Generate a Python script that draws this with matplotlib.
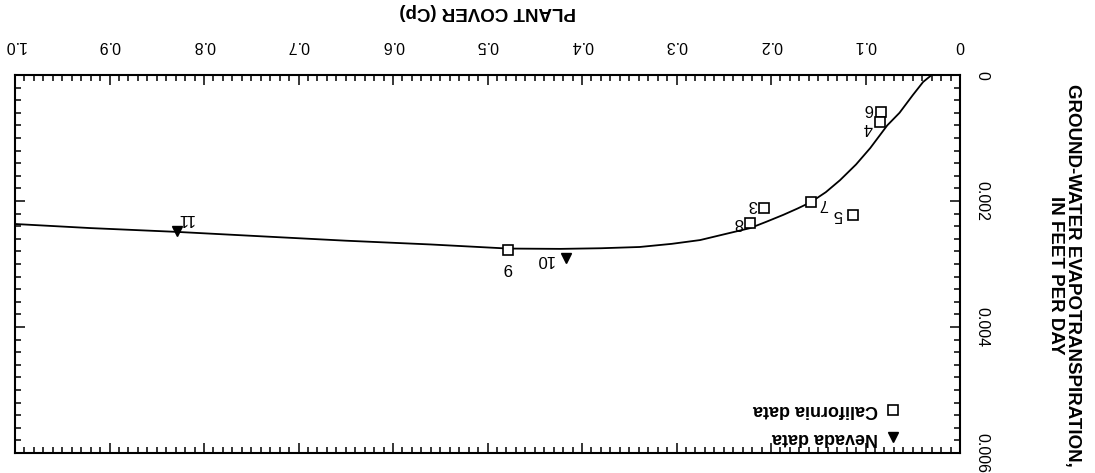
import matplotlib
matplotlib.use("Agg")
import matplotlib.pyplot as plt
from matplotlib.ticker import MultipleLocator

plt.rcParams['font.family'] = ['Liberation Sans', 'DejaVu Sans']

# fitted curve (plant cover, ET in ft/day)
curve_cp = [0.030, 0.039, 0.050, 0.064, 0.077, 0.095, 0.110, 0.127, 0.142, 0.158,
            0.172, 0.187, 0.205, 0.222, 0.250, 0.275, 0.305, 0.339, 0.380, 0.423,
            0.478, 0.560, 0.650, 0.740, 0.829, 0.920, 1.000]
curve_et = [0.00000, 0.00011, 0.00032, 0.00060, 0.00080, 0.00116, 0.00142, 0.00167,
            0.00186, 0.00202, 0.00212, 0.00222, 0.00233, 0.00243, 0.00253, 0.00262,
            0.00268, 0.00273, 0.00275, 0.00276, 0.002755, 0.00269, 0.00263, 0.00256,
            0.00249, 0.00243, 0.002365]

# California sites (open squares)
ca_id = ["6", "4", "7", "5", "3", "8", "9"]
ca_cp = [0.084, 0.085, 0.158, 0.113, 0.207, 0.222, 0.478]
ca_et = [0.00059, 0.00075, 0.00202, 0.00222, 0.00211, 0.00235, 0.00278]

# Nevada sites (filled triangles)
nv_id = ["10", "11"]
nv_cp = [0.417, 0.829]
nv_et = [0.00290, 0.00248]

x_ticks = [0, 0.1, 0.2, 0.3, 0.4, 0.5, 0.6, 0.7, 0.8, 0.9, 1.0]
x_labels = ["0", "0.1", "0.2", "0.3", "0.4", "0.5", "0.6", "0.7", "0.8", "0.9", "1.0"]
y_ticks = [0, 0.002, 0.004, 0.006]
y_labels = ["0", "0.002", "0.004", "0.006"]

# label offsets in pixels (figure is printed upside down)
ca_off = [(-12, 4), (-12, -5), (13, -1), (-15, 0), (-12, 3), (-12, 1), (-1, -17)]
nv_off = [(-21, -2), (9, 13)]

fig = plt.figure(figsize=(10.95, 4.73), dpi=100)
ax = fig.add_axes([15 / 1095, 20 / 473, 945 / 1095, 378 / 473])

ax.plot(curve_cp, curve_et, color="black", lw=1.3)
ax.plot(ca_cp, ca_et, ls="none", marker="s", ms=7.5, mfc="white", mec="black", mew=1.2)
ax.plot(nv_cp, nv_et, ls="none", marker="v", ms=7, color="black")

for lab, x, y, off in zip(ca_id, ca_cp, ca_et, ca_off):
    ax.annotate(lab, (x, y), xytext=off, textcoords="offset pixels",
                ha="center", va="center", rotation=180, fontsize=12)
for lab, x, y, off in zip(nv_id, nv_cp, nv_et, nv_off):
    ax.annotate(lab, (x, y), xytext=off, textcoords="offset pixels",
                ha="center", va="center", rotation=180, fontsize=12)

# whole chart is rotated 180 degrees
ax.set_xlim(1.0, 0)
ax.set_ylim(0.006, 0)

ax.xaxis.tick_top()
ax.xaxis.set_label_position("top")
ax.yaxis.tick_right()
ax.yaxis.set_label_position("right")

ax.set_xticks(x_ticks)
ax.set_xticklabels(x_labels, rotation=180, fontsize=11.5)
ax.set_yticks(y_ticks)
ax.set_yticklabels(y_labels, rotation=270, va="center", fontsize=11.5)
ax.xaxis.set_minor_locator(MultipleLocator(0.01))
ax.yaxis.set_minor_locator(MultipleLocator(0.0002))

ax.tick_params(which="both", direction="in", top=True, bottom=True, left=True, right=True,
               width=1.1, color="black")
ax.tick_params(which="major", length=7)
ax.tick_params(which="minor", length=4.5)
ax.tick_params(axis="x", which="major", pad=16)
ax.tick_params(axis="y", which="major", pad=10)
for s in ax.spines.values():
    s.set_linewidth(1.5)

ax.set_xlabel("PLANT COVER (Cp)", rotation=180, fontsize=13.5, fontweight="bold")
ax.xaxis.set_label_coords(0.5, 1.155)
ax.set_ylabel("GROUND-WATER EVAPOTRANSPIRATION,\nIN FEET PER DAY", rotation=270,
              fontsize=13.5, fontweight="bold", va="center", ha="center", linespacing=1.05)
ax.yaxis.set_label_coords(1.110, 0.47)

# legend, drawn by hand so it can be upside down like the rest
ax.plot([0.929], [0.042], transform=ax.transAxes, marker="v", ms=7, color="black", clip_on=False)
ax.plot([0.929], [0.114], transform=ax.transAxes, marker="s", ms=7.5, mfc="white",
        mec="black", mew=1.2, clip_on=False)
ax.text(0.913, 0.042, "Nevada data", transform=ax.transAxes, rotation=180,
        ha="right", va="center", fontsize=13, fontweight="bold")
ax.text(0.913, 0.114, "California data", transform=ax.transAxes, rotation=180,
        ha="right", va="center", fontsize=13, fontweight="bold")

fig.savefig("out.png", dpi=100)
